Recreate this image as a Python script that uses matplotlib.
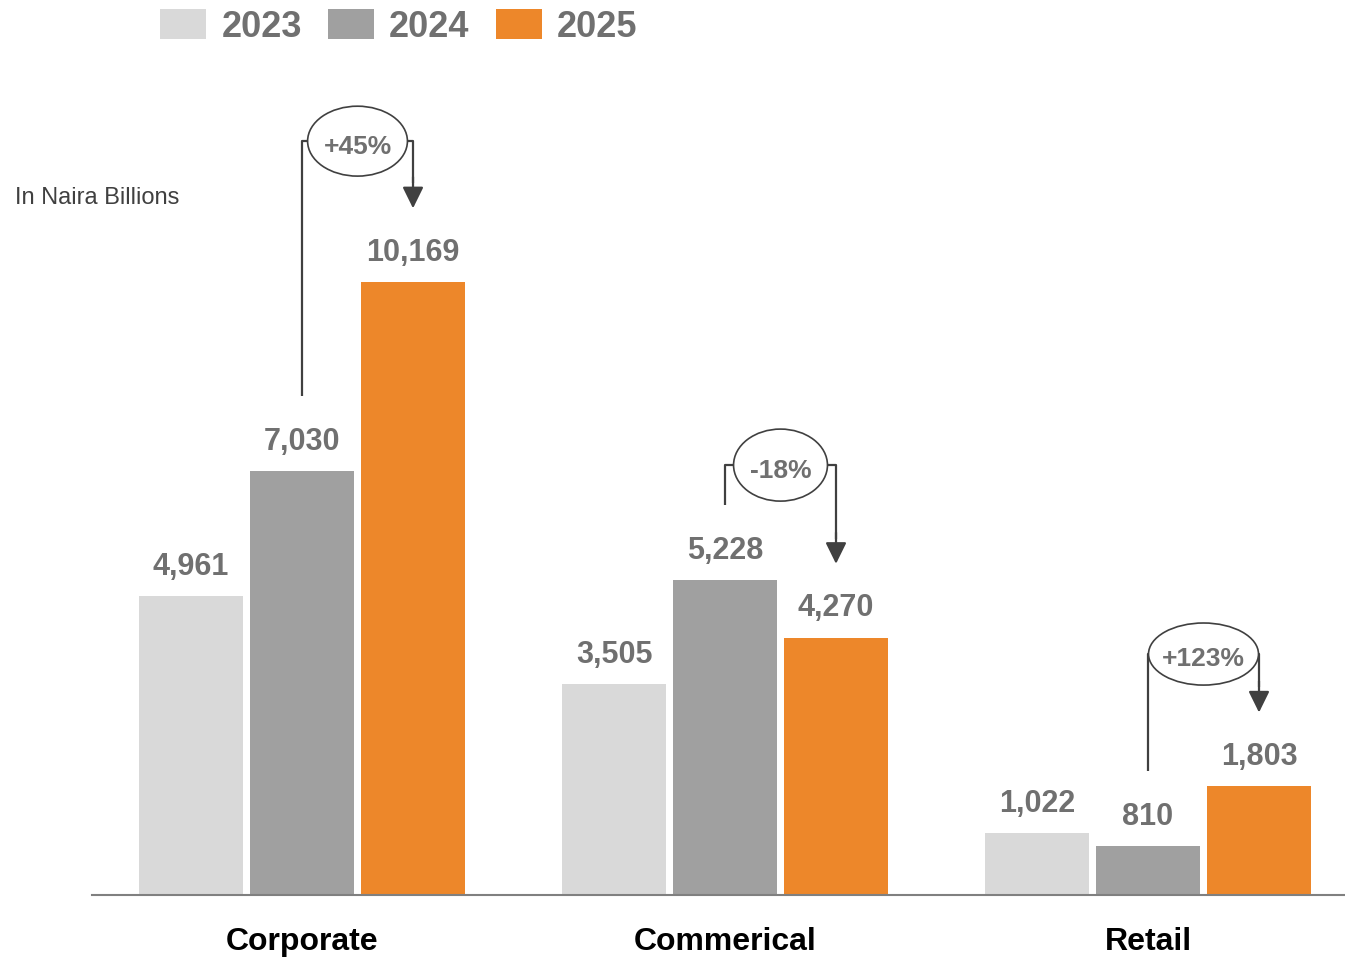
import matplotlib.pyplot as plt
from matplotlib.patches import Ellipse, Patch

plt.rcParams['font.family'] = ['Liberation Sans', 'DejaVu Sans']

segments = ['Corporate', 'Commerical', 'Retail']
years = ['2023', '2024', '2025']
val2023 = [4961, 3505, 1022]
val2024 = [7030, 5228, 810]
val2025 = [10169, 4270, 1803]
changes = ['+45%', '-18%', '+123%']
# bubble centre height (data units) and size (data-x width, data-y height)
bubbleY = [12508, 7133, 3998]
bubbleW = [0.236, 0.222, 0.26]
bubbleH = [1160, 1195, 1030]

colors = ['#d9d9d9', '#a0a0a0', '#ed872a']
labelColor = '#707070'
lineColor = '#404040'

fig = plt.figure(figsize=(13.45, 9.59), dpi=100)
ax = fig.add_axes([92 / 1345, 64 / 959, (1345 - 92) / 1345, 895 / 959])

width = 0.248
step = 0.2624
series = [val2023, val2024, val2025]
for i, vals in enumerate(series):
    xs = [g + (i - 1) * step for g in range(len(segments))]
    ax.bar(xs, vals, width=width, color=colors[i], zorder=2)
    for x, v in zip(xs, vals):
        ax.text(x, v + 235, f'{v:,}', ha='center', va='bottom', fontsize=22,
                fontweight='bold', color=labelColor)

ax.set_xlim(-0.4965, 2.4657)
ax.set_ylim(0, 14850)

# growth bubbles from 2024 to 2025
off = 1245
for g in range(len(segments)):
    x1 = g
    x2 = g + step
    cx = (x1 + x2) / 2
    cy = bubbleY[g]
    ax.plot([x1, x1, cx], [val2024[g] + off, cy, cy], color=lineColor, lw=1.6,
            solid_capstyle='butt', zorder=3)
    ax.plot([cx, x2, x2], [cy, cy, val2025[g] + off + 400], color=lineColor, lw=1.6,
            solid_capstyle='butt', zorder=3)
    ax.annotate('', xy=(x2, val2025[g] + off - 20), xytext=(x2, val2025[g] + off + 500),
                arrowprops=dict(arrowstyle='-|>,head_length=0.65,head_width=0.32',
                                mutation_scale=20, color=lineColor, lw=1.6,
                                shrinkA=0, shrinkB=0), zorder=3)
    ax.add_patch(Ellipse((cx, cy), bubbleW[g], bubbleH[g], facecolor='white',
                         edgecolor=lineColor, lw=1.2, zorder=4))
    ax.text(cx, cy - 90, changes[g], ha='center', va='center', fontsize=19,
            fontweight='bold', color=labelColor, zorder=5)

for s in ['top', 'right', 'left']:
    ax.spines[s].set_visible(False)
ax.spines['bottom'].set_color('#808080')
ax.spines['bottom'].set_linewidth(1.5)
ax.set_yticks([])
ax.set_xticks(range(len(segments)))
ax.set_xticklabels(segments, fontsize=23, fontweight='bold', color='black')
ax.tick_params(axis='x', length=0, pad=23)

fig.text(15 / 1345, 1 - 198 / 959, 'In Naira Billions', fontsize=17, color='#404040',
         va='center', ha='left')

handles = [Patch(facecolor=c) for c in colors]
leg = fig.legend(handles, years, loc='upper left', bbox_to_anchor=(160 / 1345, 1 - 9 / 959),
                 ncol=3, frameon=False, borderpad=0, borderaxespad=0,
                 handlelength=1.28, handleheight=0.92, handletextpad=0.42,
                 columnspacing=0.72, prop={'size': 26, 'weight': 'bold'})
for t in leg.get_texts():
    t.set_color(labelColor)

fig.savefig('out.png', dpi=100)
